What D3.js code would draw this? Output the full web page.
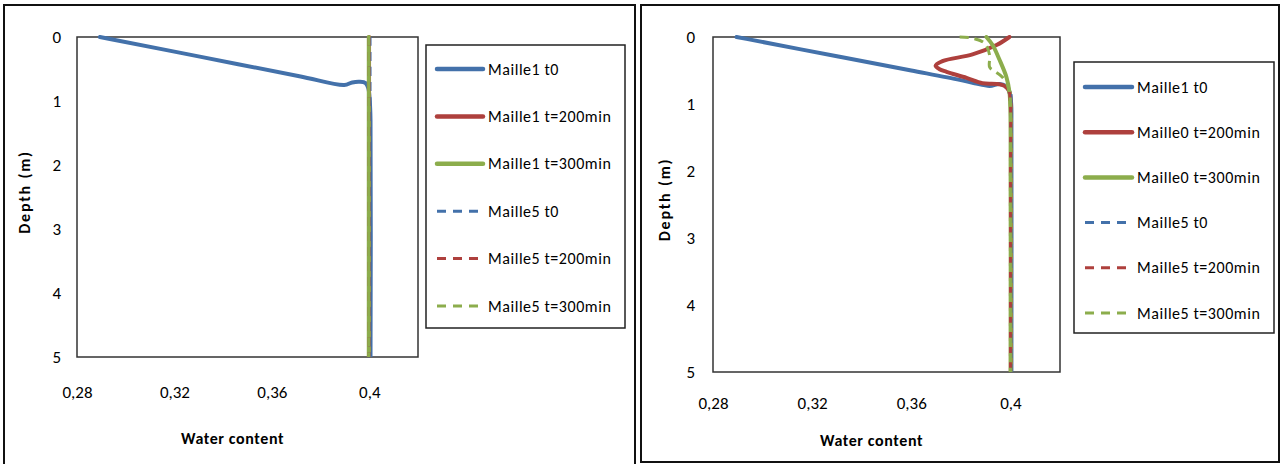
<!DOCTYPE html>
<html><head><meta charset="utf-8">
<script src="https://cdn.jsdelivr.net/npm/d3@7"></script>
<style>
body{margin:0;background:#fff;}
svg{display:block;}
text{font-family:Carlito,Calibri,"Liberation Sans Narrow","DejaVu Sans Condensed",sans-serif;fill:#000;}
</style></head>
<body>
<svg id="c" width="1281" height="464"></svg>
<script>
// ---------- data ----------
const xTicks = [0.28, 0.32, 0.36, 0.40];
const yTicks = [0, 1, 2, 3, 4, 5];
const xTitle = "Water content";
const yTitle = "Depth (m)";

const leftNames = ["Maille1 t0","Maille1 t=200min","Maille1 t=300min","Maille5 t0","Maille5 t=200min","Maille5 t=300min"];
const rightNames = ["Maille1 t0","Maille0 t=200min","Maille0 t=300min","Maille5 t0","Maille5 t=200min","Maille5 t=300min"];

// [water content, depth]
const left_m1_t0 = [[0.2894,0],[0.2935,0.03],[0.3304,0.307],[0.3713,0.612],[0.3897,0.75],[0.3930,0.71],[0.3960,0.70],[0.3985,0.72],[0.3996,0.80],[0.4002,1.0],[0.4005,1.3],[0.4005,5]];
const left_m1_t200 = [[0.3999,0],[0.3999,1],[0.3999,2],[0.3999,3],[0.3999,4],[0.3999,5]];
const left_m1_t300 = [[0.3998,0],[0.3998,1],[0.3998,2],[0.3998,3],[0.3998,4],[0.3998,5]];
const left_m5_t0 = [[0.4003,0],[0.4003,1],[0.4003,2],[0.4003,3],[0.4003,4],[0.4003,5]];
const left_m5_t200 = [[0.3999,0],[0.3999,1],[0.3999,2],[0.3999,3],[0.3999,4],[0.3999,5]];
const left_m5_t300 = [[0.3998,0],[0.3998,1],[0.3998,2],[0.3998,3],[0.3998,4],[0.3998,5]];

const right_m1_t0 = [[0.2895,0],[0.2935,0.028],[0.3300,0.288],[0.3600,0.50],[0.3795,0.64],[0.3855,0.69],[0.3916,0.73],[0.3956,0.70],[0.3980,0.73],[0.3996,0.82],[0.4003,1.0],[0.4004,1.3],[0.4004,5]];
const right_m0_t200 = [[0.3996,0],[0.3944,0.12],[0.3847,0.26],[0.3726,0.36],[0.3698,0.43],[0.3714,0.48],[0.3742,0.52],[0.3823,0.61],[0.3887,0.69],[0.3944,0.70],[0.3976,0.73],[0.3996,0.82],[0.4001,1.0],[0.4002,1.3],[0.4002,5]];
const right_m0_t300 = [[0.3903,0],[0.3928,0.12],[0.3956,0.34],[0.3984,0.60],[0.3996,0.82],[0.4000,1.09],[0.4001,1.5],[0.4001,5]];
const right_m5_t0 = [[0.4002,0.85],[0.4002,1],[0.4002,2],[0.4002,3],[0.4002,4],[0.4002,5]];
const right_m5_t200 = [[0.3996,0.82],[0.4000,1.0],[0.4000,2],[0.4000,3],[0.4000,4],[0.4000,5]];
const right_m5_t300 = [[0.3795,0],[0.3843,0.015],[0.3895,0.09],[0.3916,0.27],[0.3916,0.45],[0.3936,0.51],[0.3968,0.60],[0.3996,0.79],[0.4000,1.0],[0.4000,2],[0.4000,5]];

// ---------- layout / style ----------
const colors = ["#4371AA","#AE403D","#8CAD4C","#4371AA","#AE403D","#8CAD4C"];
const dashed = [false,false,false,true,true,true];

const panels = [
  {frame:[4,5,631,470], plot:[77,418,37,357], ytx:61, xty:398, xtitleY:444, ytitleX:30,
   legend:{x:426,y:45,w:199,h:283,row0:69,step:47.4,lx0:437,lx1:483,tx:488},
   names:leftNames, series:[left_m1_t0,left_m1_t200,left_m1_t300,left_m5_t0,left_m5_t200,left_m5_t300]},
  {frame:[641,5,638,457], plot:[713,1060,37,372], ytx:695, xty:409, xtitleY:446, ytitleX:670,
   legend:{x:1074,y:62,w:200,h:271,row0:87,step:45.2,lx0:1085,lx1:1132,tx:1137},
   names:rightNames, series:[right_m1_t0,right_m0_t200,right_m0_t300,right_m5_t0,right_m5_t200,right_m5_t300]}
];

const svg = d3.select("#c");
const fmt = v => d3.format(".2~f")(v).replace(".", ",");

panels.forEach(p => {
  const g = svg.append("g");
  g.append("rect").attr("x",p.frame[0]).attr("y",p.frame[1]).attr("width",p.frame[2]).attr("height",p.frame[3])
    .attr("fill","#fff").attr("stroke","#111").attr("stroke-width",2);

  const [px0,px1,py0,py1] = p.plot;
  const x = d3.scaleLinear().domain([0.28,0.42]).range([px0,px1]);
  const y = d3.scaleLinear().domain([0,5]).range([py0,py1]);

  g.append("rect").attr("x",px0).attr("y",py0).attr("width",px1-px0).attr("height",py1-py0)
    .attr("fill","none").attr("stroke","#333").attr("stroke-width",1.5);

  const ax = g.append("g").attr("transform",`translate(0,${p.xty})`)
    .call(d3.axisBottom(x).tickValues(xTicks).tickSize(0).tickFormat(fmt));
  ax.select(".domain").remove();
  ax.selectAll("text").attr("dy",0).attr("y",0).style("font-size","17px").style("font-family",null);

  const ay = g.append("g").attr("transform",`translate(${p.ytx},0)`)
    .call(d3.axisLeft(y).tickValues(yTicks).tickSize(0).tickFormat(d3.format("d")));
  ay.select(".domain").remove();
  ay.selectAll("text").attr("x",0).style("font-size","17px").style("font-family",null);

  g.append("text").attr("x",(px0+px1)/2 - 15).attr("y",p.xtitleY).attr("text-anchor","middle")
    .style("font-size","16px").style("font-weight","bold").style("letter-spacing","0.6px").text(xTitle);
  g.append("text").attr("transform",`translate(${p.ytitleX},${(py0+py1)/2 - 5}) rotate(-90)`)
    .attr("text-anchor","middle").style("font-size","16px").style("font-weight","bold")
    .style("letter-spacing","1.8px").text(yTitle);

  const line = d3.line().x(d=>x(d[0])).y(d=>y(d[1])).curve(d3.curveCatmullRom.alpha(0.5));
  const clip = "clip"+p.plot[0];
  g.append("clipPath").attr("id",clip).append("rect").attr("x",px0).attr("y",py0-2).attr("width",px1-px0).attr("height",py1-py0+2);
  p.series.forEach((s,i) => {
    g.append("path").datum(s).attr("d",line).attr("fill","none")
      .attr("clip-path",`url(#${clip})`)
      .attr("stroke",colors[i]).attr("stroke-width",dashed[i]?3:4)
      .attr("stroke-linecap",dashed[i]?"butt":"round").attr("stroke-linejoin","round")
      .attr("stroke-dasharray",dashed[i]?"9,6":null);
  });

  const L = p.legend;
  g.append("rect").attr("x",L.x).attr("y",L.y).attr("width",L.w).attr("height",L.h)
    .attr("fill","#fff").attr("stroke","#222").attr("stroke-width",1.5);
  p.names.forEach((n,i) => {
    const yy = L.row0 + i*L.step;
    g.append("line").attr("x1",L.lx0).attr("x2",L.lx1).attr("y1",yy).attr("y2",yy)
      .attr("stroke",colors[i]).attr("stroke-width",dashed[i]?3:4.5)
      .attr("stroke-linecap",dashed[i]?"butt":"round")
      .attr("stroke-dasharray",dashed[i]?"9,7":null);
    g.append("text").attr("x",L.tx).attr("y",yy).attr("dy","0.35em")
      .style("font-size","16px").style("letter-spacing","0.55px").text(n);
  });
});
</script>
</body></html>
